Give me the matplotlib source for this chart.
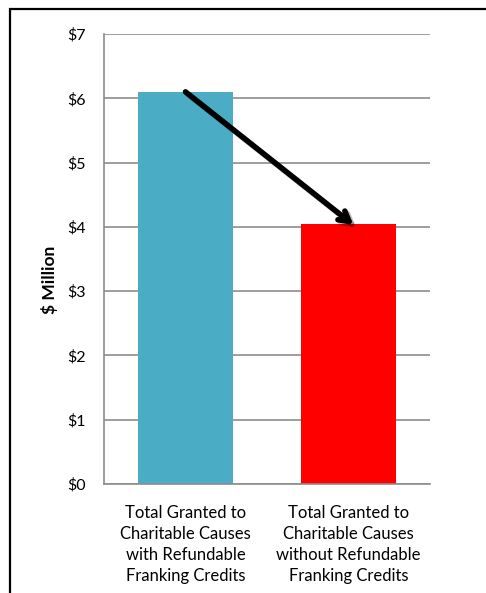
import matplotlib
matplotlib.use("Agg")
import matplotlib.pyplot as plt
import matplotlib.patheffects as pe
from matplotlib.patches import Rectangle

categories = ["Total Granted to\nCharitable Causes\nwith Refundable\nFranking Credits",
              "Total Granted to\nCharitable Causes\nwithout Refundable\nFranking Credits"]
values = [6.1, 4.05]
colors = ["#4BACC6", "#FF0000"]
yticks = [0, 1, 2, 3, 4, 5, 6, 7]
ytick_labels = ["$0", "$1", "$2", "$3", "$4", "$5", "$6", "$7"]

plt.rcParams['font.family'] = ['Lato', 'DejaVu Sans']

W, H = 486, 593
fig = plt.figure(figsize=(W/100, H/100), dpi=100)
ax = fig.add_axes([104/W, 1-484/H, (430-104)/W, (484-34)/H])

x = list(range(len(categories)))
ax.bar(x, values, width=0.58, color=colors, zorder=2)
ax.set_xlim(-0.5, 1.5)
ax.set_ylim(0, 7)
ax.set_yticks(yticks)
ax.set_yticklabels(ytick_labels, fontsize=11.5)
ax.set_xticks(x)
ax.set_xticklabels(categories, fontsize=12, linespacing=1.4)
ax.tick_params(axis='y', length=0, pad=13)
ax.tick_params(axis='x', length=0, pad=15)
ax.grid(axis='y', color='#8c8c8c', linewidth=1.2, zorder=0)
ax.set_axisbelow(True)
for s in ['top', 'right']:
    ax.spines[s].set_visible(False)
for s in ['left', 'bottom']:
    ax.spines[s].set_color('#8c8c8c')
    ax.spines[s].set_linewidth(1.2)
ax.set_ylabel("$ Million", fontsize=12.5, fontweight='bold')
ax.yaxis.set_label_coords((58-104)/(430-104), (484-280)/(484-34))

ax.annotate("", xy=(1.03, values[1] - 0.02), xytext=(0.0, values[0]),
            arrowprops=dict(arrowstyle="->,head_length=0.7,head_width=0.4",
                            color='black', lw=4,
                            shrinkA=0, shrinkB=0,
                            path_effects=[pe.SimpleLineShadow(offset=(2, -2), alpha=0.25),
                                          pe.Normal()]),
            zorder=5)

fig.patches.append(Rectangle((10/W, -0.1), 1.2, 1-9/H+0.1, transform=fig.transFigure,
                             fill=False, edgecolor='black', linewidth=1.6))

fig.savefig("out.png", dpi=100)
